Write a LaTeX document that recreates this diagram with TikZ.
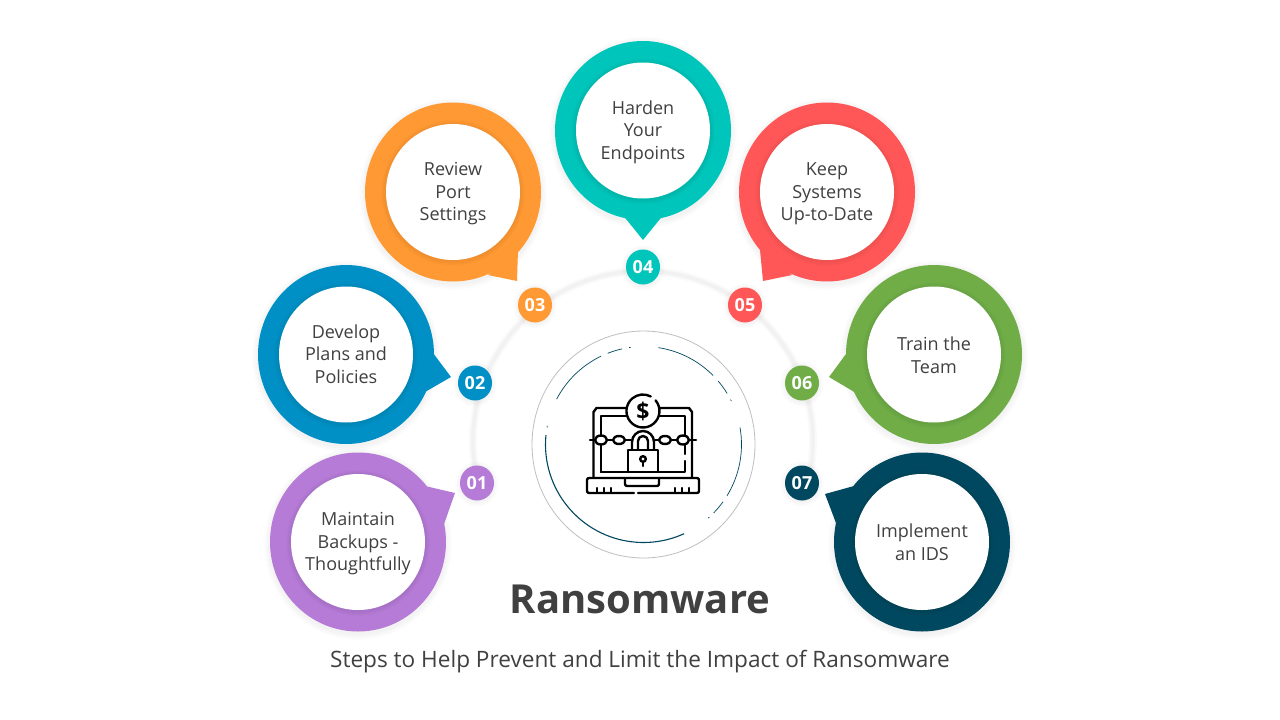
\documentclass[tikz,border=0pt]{standalone}
\usepackage{fontspec}
\setmainfont{Open Sans}
\usepackage{xcolor}
\usetikzlibrary{positioning,shapes.geometric}

\definecolor{stepA}{HTML}{B67BD6}
\definecolor{stepB}{HTML}{0090C5}
\definecolor{stepC}{HTML}{FF9933}
\definecolor{stepD}{HTML}{00C5BA}
\definecolor{stepE}{HTML}{FF5757}
\definecolor{stepF}{HTML}{70AD47}
\definecolor{stepG}{HTML}{004860}
\definecolor{inktext}{HTML}{404040}

% soft shadow under a disc: centre x, centre y, x radius, y radius
\newcommand{\softshadow}[4]{%
    \foreach \grow in {1,2,...,6} {
        \fill[black, opacity=0.009] (#1,#2+2) ellipse ({#3+\grow} and {#4+\grow});
    }
}
% soft shadow that the white face throws on its ring
\newcommand{\innershadow}[2]{%
    \foreach \grow in {1,2,...,5} {
        \fill[black, opacity=0.01] (#1,#2+1) ellipse ({67+\grow} and {68+\grow});
    }
}

\begin{document}
\begin{tikzpicture}[
        x=1pt, y=-1pt,
        disc/.style={ellipse, minimum width=176pt, minimum height=179pt, inner sep=0pt},
        face/.style={ellipse, fill=white, minimum width=134pt, minimum height=136pt, inner sep=0pt},
        steptext/.style={align=center, inner sep=0pt, text=inktext, font=\fontsize{18}{22.5}\selectfont},
        badge/.style={ellipse, minimum width=34pt, minimum height=35pt, inner sep=0pt, text=white, font=\fontsize{18}{20}\selectfont\bfseries},
        iconline/.style={draw=black, line width=2.4pt, line cap=round, line join=round},
        brokenarc/.style={draw=stepG, line width=0.7pt}
    ]
        \useasboundingbox (0,0) rectangle (1280,720);
        \fill[white] (0,0) rectangle (1280,720);

        % Guide arc
        \coordinate (hub) at (643,441);
        \draw[black!2, line width=8pt] (hub) ++(-194:170) arc[start angle=-194, end angle=14, radius=170];
        \draw[black!5, line width=4pt] (hub) ++(-194:170) arc[start angle=-194, end angle=14, radius=170];

        % Step 1
        \softshadow{358}{542}{88}{90}
        \fill[stepA] (425,486) -- (455,493) -- (443,527) -- cycle;
        \node[disc, fill=stepA] (disc1) at (358,542) {};
        \innershadow{358}{542}
        \node[face] (face1) at (358,542) {};
        \node[steptext] (text1) at (358,544) {Maintain\\Backups -\\Thoughtfully};

        % Step 2
        \softshadow{346}{354.5}{88}{90}
        \fill[stepB] (433,353) -- (451,377) -- (425,392) -- cycle;
        \node[disc, fill=stepB] (disc2) at (346,354.5) {};
        \innershadow{346}{354.5}
        \node[face] (face2) at (346,354.5) {};
        \node[steptext] (text2) at (346,354) {Develop\\Plans and\\Policies};

        % Step 3
        \softshadow{453}{192}{88}{90}
        \fill[stepC] (518,250) -- (517,281) -- (488,275) -- cycle;
        \node[disc, fill=stepC] (disc3) at (453,192) {};
        \innershadow{453}{192}
        \node[face] (face3) at (453,192) {};
        \node[steptext] (text3) at (453,194) {Review\\Port\\Settings};

        % Step 4
        \softshadow{643}{130.5}{88}{90}
        \fill[stepD] (622,214) -- (643,240) -- (664,214) -- cycle;
        \node[disc, fill=stepD] (disc4) at (643,130.5) {};
        \innershadow{643}{130.5}
        \node[face] (face4) at (643,130.5) {};
        \node[steptext] (text4) at (643,132) {Harden\\Your\\Endpoints};

        % Step 5
        \softshadow{827}{192}{88}{90}
        \fill[stepE] (760,250) -- (763,281) -- (792,275) -- cycle;
        \node[disc, fill=stepE] (disc5) at (827,192) {};
        \innershadow{827}{192}
        \node[face] (face5) at (827,192) {};
        \node[steptext] (text5) at (827,194) {Keep\\Systems\\Up-to-Date};

        % Step 6
        \softshadow{934}{354.5}{88}{90}
        \fill[stepF] (846,354) -- (829,377) -- (856,393) -- cycle;
        \node[disc, fill=stepF] (disc6) at (934,354.5) {};
        \innershadow{934}{354.5}
        \node[face] (face6) at (934,354.5) {};
        \node[steptext] (text6) at (934,355) {Train the\\Team};

        % Step 7
        \softshadow{922}{542}{88}{90}
        \fill[stepG] (854,486) -- (825,494) -- (836,523) -- cycle;
        \node[disc, fill=stepG] (disc7) at (922,542) {};
        \innershadow{922}{542}
        \node[face] (face7) at (922,542) {};
        \node[steptext] (text7) at (922,542) {Implement\\an IDS};

        % Badges
        \softshadow{477}{482}{16}{17}
        \softshadow{475}{382}{16}{17}
        \softshadow{535}{304}{16}{17}
        \softshadow{643}{266}{16}{17}
        \softshadow{745}{304}{16}{17}
        \softshadow{802}{382}{16}{17}
        \softshadow{802}{482}{16}{17}
        \node[badge, fill=stepA] (badge1) at (477,483) {01};
        \node[badge, fill=stepB] (badge2) at (475,383) {02};
        \node[badge, fill=stepC] (badge3) at (535,305) {03};
        \node[badge, fill=stepD] (badge4) at (643,267) {04};
        \node[badge, fill=stepE] (badge5) at (745,305) {05};
        \node[badge, fill=stepF] (badge6) at (802,383) {06};
        \node[badge, fill=stepG] (badge7) at (802,483) {07};

        % Centre circle
        \node[ellipse, draw=black!25, line width=0.8pt, minimum width=223pt, minimum height=227pt] (centre) at (643.5,444.5) {};
        \draw[brokenarc, line width=1.1pt] (centre.center) ++(-174.5:98) arc[start angle=-174.5, end angle=-294.5, radius=98];
        \draw[brokenarc] (centre.center) ++(31.6:98) arc[start angle=31.6, end angle=-10, radius=98];
        \draw[brokenarc] (centre.center) ++(44.3:98) arc[start angle=44.3, end angle=35.7, radius=98];
        \draw[brokenarc] (centre.center) ++(-40.3:98) arc[start angle=-40.3, end angle=-31.4, radius=98];
        \draw[brokenarc] (centre.center) ++(-81.3:98) arc[start angle=-81.3, end angle=-44.7, radius=98];
        \draw[brokenarc] (centre.center) ++(-111.4:98) arc[start angle=-111.4, end angle=-102.7, radius=98];
        \draw[brokenarc] (centre.center) ++(-152.4:98) arc[start angle=-152.4, end angle=-115.7, radius=98];
        \draw[brokenarc] (centre.center) ++(48.7:98) arc[start angle=48.7, end angle=47.7, radius=98];
        \draw[brokenarc] (centre.center) ++(-27.3:98) arc[start angle=-27.3, end angle=-26.3, radius=98];
        \draw[brokenarc] (centre.center) ++(-98.5:98) arc[start angle=-98.5, end angle=-97.5, radius=98];
        \draw[brokenarc] (centre.center) ++(-170:98) arc[start angle=-170, end angle=-169, radius=98];

        % Laptop icon
        \draw[iconline] (593.5,477) -- (593.5,412) -- ++(3,-4) -- (626,408);
        \draw[iconline] (660,408) -- (689,408) -- ++(3,4) -- (692,477);
        \draw[iconline] (601,472) -- (601,416) -- (626,416);
        \draw[iconline] (660,416) -- (685,416) -- (685,454);
        \draw[iconline] (685,461) -- (685,472) -- (601,472);
        \draw[iconline, rounded corners=2pt] (634,493) -- (587,493) -- (587,478) -- (699,478) -- (699,493) -- (638,493);
        \draw[iconline, rounded corners=2pt] (625,479) -- (625,486) -- (659,486) -- (659,479);
        \draw[iconline] (597,488) -- (597,492) (604,488) -- (604,492) (611,488) -- (611,492);
        \draw[iconline] (675,488) -- (675,492) (682,488) -- (682,492) (689,488) -- (689,492);
        % chain
        \draw[iconline] (590,440) -- (595,440) (607,440) -- (613,440) (625,440) -- (631,440);
        \draw[iconline] (655,440) -- (659,440) (671,440) -- (677,440) (689,440) -- (696,440);
        \draw[iconline, fill=white] (601,440) ellipse (6 and 4.5);
        \draw[iconline, fill=white] (619,440) ellipse (6 and 4);
        \draw[iconline, fill=white] (665,440) ellipse (6 and 4);
        \draw[iconline, fill=white] (683,440) ellipse (6 and 4.5);
        % coin
        \fill[white] (643,411) circle (17);
        \draw[iconline] (655.6,400.4) arc[start angle=-40, end angle=298, radius=16.5];
        \node[font=\fontsize{23}{23}\selectfont\bfseries, text=black, inner sep=0pt] (dollar) at (643,411) {\$};
        % padlock
        \fill[white] (631,452) -- (631,443) arc[start angle=180, end angle=360, radius=12] -- (655,452) -- cycle;
        \draw[iconline] (632,450) -- (632,442) arc[start angle=180, end angle=360, radius=11] -- (654,450);
        \draw[iconline] (638,450) -- (638,441) arc[start angle=180, end angle=360, radius=5] -- (648,450);
        \fill[white] (628,450) rectangle (658,472);
        \draw[iconline] (628,450) rectangle (658,472);
        \draw[iconline] (643,459) circle (2.8);
        \draw[iconline] (643,462) -- (643,466);

        % Titles
        \node[text=inktext, font=\fontsize{40}{46}\selectfont\bfseries] (title) at (640,599) {Ransomware};
        \node[text=inktext, font=\fontsize{22.6}{26}\selectfont] (subtitle) at (640,662) {Steps to Help Prevent and Limit the Impact of Ransomware};
\end{tikzpicture}
\end{document}
